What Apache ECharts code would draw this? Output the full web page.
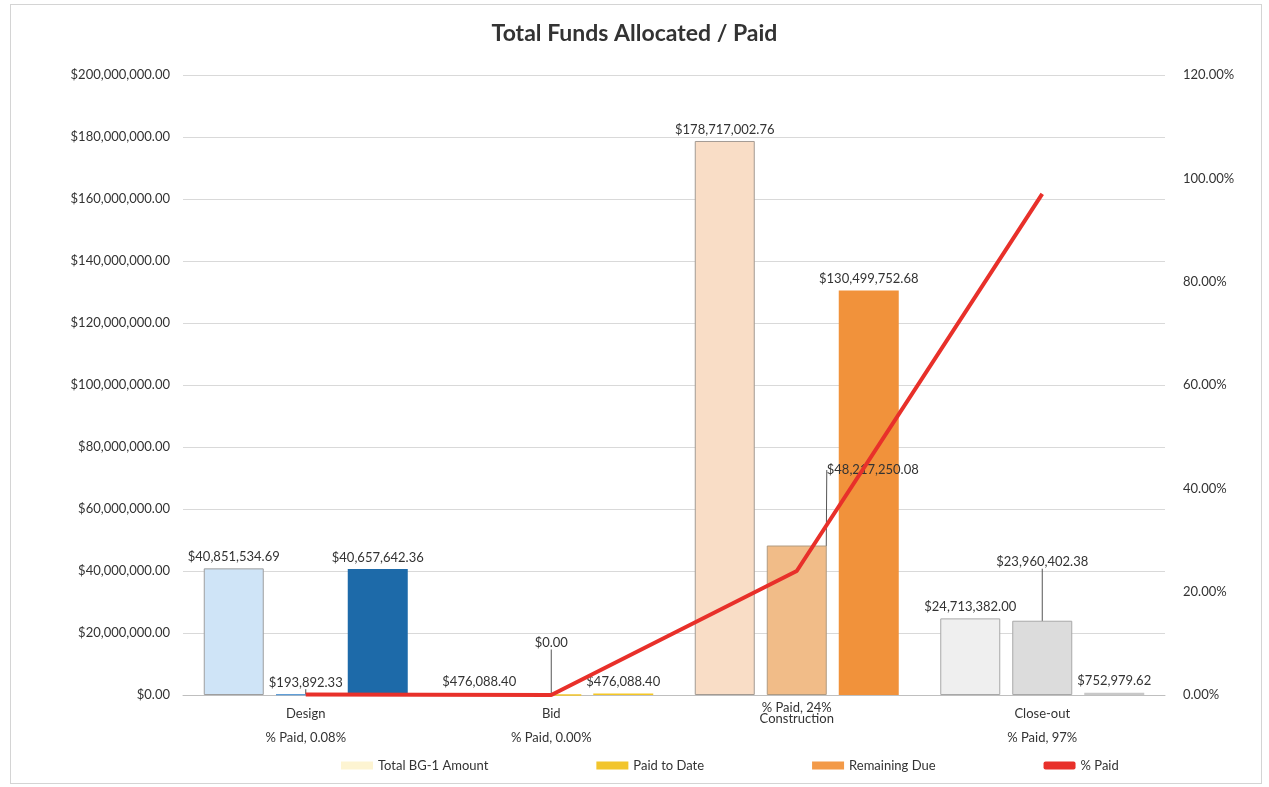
<!DOCTYPE html>
<html>
<head>
<meta charset="utf-8">
<script src="https://cdn.jsdelivr.net/npm/echarts@6/dist/echarts.min.js"></script>
<style>
html,body{margin:0;padding:0;background:#fff;}
#chart{position:absolute;left:0;top:0;width:1269px;height:787px;}
#frame{position:absolute;left:10px;top:4px;width:1250px;height:778px;border:1px solid #d4d4d4;pointer-events:none;}
</style>
</head>
<body>
<div id="chart"></div>
<div id="frame"></div>
<script>
var categories = ['Design', 'Bid', 'Construction', 'Close-out'];
var pctLabels = ['% Paid, 0.08%', '% Paid, 0.00%', '% Paid, 24%', '% Paid, 97%'];
var totalBG1 = [40851534.69, 476088.40, 178717002.76, 24713382.00];
var paidToDate = [193892.33, 0.00, 48217250.08, 23960402.38];
var remainingDue = [40657642.36, 476088.40, 130499752.68, 752979.62];
var pctPaid = [0.0008, 0.0, 0.24, 0.97];
var leftTicks = {min: 0, max: 200000000, interval: 20000000};
var rightTicks = {min: 0, max: 1.2, interval: 0.2};

var totalColors = ['#cfe4f7', '#fdf4d2', '#f9ddc6', '#efefef'];
var paidColors = ['#5b9bd5', '#f2c52d', '#f1bc88', '#dcdcdc'];
var remainColors = ['#1d6aa9', '#f5c724', '#f1923b', '#c8c8c8'];

function money(v) {
  return '$' + Number(v).toLocaleString('en-US', {minimumFractionDigits: 2, maximumFractionDigits: 2});
}

var FONT = 'Lato';
var chart = echarts.init(document.getElementById('chart'));

function barData(values, colors, borders) {
  return values.map(function (v, i) {
    return {value: v, itemStyle: {color: colors[i], borderColor: borders ? borders[i] : colors[i], borderWidth: borders ? 1 : 0}};
  });
}

var labelStyle = {show: true, position: 'top', distance: 5, color: '#333', fontFamily: FONT, fontSize: 13, formatter: function (p) { return money(p.value); }};

var option = {
  backgroundColor: '#fff',
  animation: false,
  title: {
    text: 'Total Funds Allocated / Paid',
    left: 'center', top: 17,
    textStyle: {fontFamily: FONT, fontSize: 23, fontWeight: 'bold', color: '#333'}
  },
  legend: {
    bottom: 10, left: 336,
    itemGap: 108, itemWidth: 32, itemHeight: 8,
    textStyle: {fontFamily: FONT, fontSize: 13, color: '#333'},
    data: [
      {name: 'Total BG-1 Amount', icon: 'rect'},
      {name: 'Paid to Date', icon: 'rect'},
      {name: 'Remaining Due', icon: 'rect'},
      {name: '% Paid', icon: 'roundRect', itemStyle: {color: '#e8302a'}}
    ]
  },
  grid: {left: 183, right: 104, top: 75, bottom: 92},
  xAxis: {
    type: 'category',
    data: categories,
    axisTick: {show: false},
    axisLine: {lineStyle: {color: '#bfbfbf'}},
    axisLabel: {
      margin: 7,
      interval: 0,
      formatter: function (v, i) {
        if (v === 'Construction') return '{t|' + pctLabels[i] + '}\n{t|' + v + '}';
        return '{n|' + v + '}\n{n|' + pctLabels[i] + '}';
      },
      rich: {
        n: {fontFamily: FONT, fontSize: 13, color: '#333', lineHeight: 24},
        t: {fontFamily: FONT, fontSize: 13, color: '#333', lineHeight: 11}
      }
    }
  },
  yAxis: [
    {
      type: 'value', min: leftTicks.min, max: leftTicks.max, interval: leftTicks.interval,
      axisLine: {show: false}, axisTick: {show: false},
      axisLabel: {fontFamily: FONT, fontSize: 13, color: '#333', margin: 13, formatter: function (v) { return money(v); }},
      splitLine: {lineStyle: {color: '#d9d9d9'}}
    },
    {
      type: 'value', min: rightTicks.min, max: rightTicks.max, interval: rightTicks.interval,
      axisLine: {show: false}, axisTick: {show: false},
      axisLabel: {fontFamily: FONT, fontSize: 13, color: '#333', margin: 18, formatter: function (v) { return (v * 100).toFixed(2) + '%'; }},
      splitLine: {show: false}
    }
  ],
  series: [
    {
      name: 'Total BG-1 Amount', type: 'bar', barWidth: 60, barGap: '20%',
      itemStyle: {color: '#fdf4d2'},
      data: barData(totalBG1, totalColors, ['#9e9e9e', '#d8d0a8', '#a39a92', '#a8a8a8']),
      label: labelStyle
    },
    {
      name: 'Paid to Date', type: 'bar', barWidth: 60, barGap: '20%',
      itemStyle: {color: '#f2c52d'},
      data: barData(paidToDate, paidColors, ['#5b9bd5', '#f2c52d', '#b09a80', '#a8a8a8']),
      label: labelStyle,
      labelLine: {show: true, lineStyle: {color: '#555', width: 1}},
      labelLayout: function (p) {
        if (p.dataIndex === 1) return {dy: -40};
        if (p.dataIndex === 2) return {dx: 76, dy: -64};
        if (p.dataIndex === 3) return {dy: -47};
        return {};
      }
    },
    {
      name: 'Remaining Due', type: 'bar', barWidth: 60, barGap: '20%',
      itemStyle: {color: '#f39a48'},
      data: barData(remainingDue, remainColors, null),
      label: labelStyle
    },
    {
      name: '% Paid', type: 'line', yAxisIndex: 1,
      data: pctPaid, symbol: 'none',
      lineStyle: {color: '#e8302a', width: 4},
      itemStyle: {color: '#e8302a'},
      z: 5
    }
  ]
};
chart.setOption(option);
</script>
</body>
</html>
